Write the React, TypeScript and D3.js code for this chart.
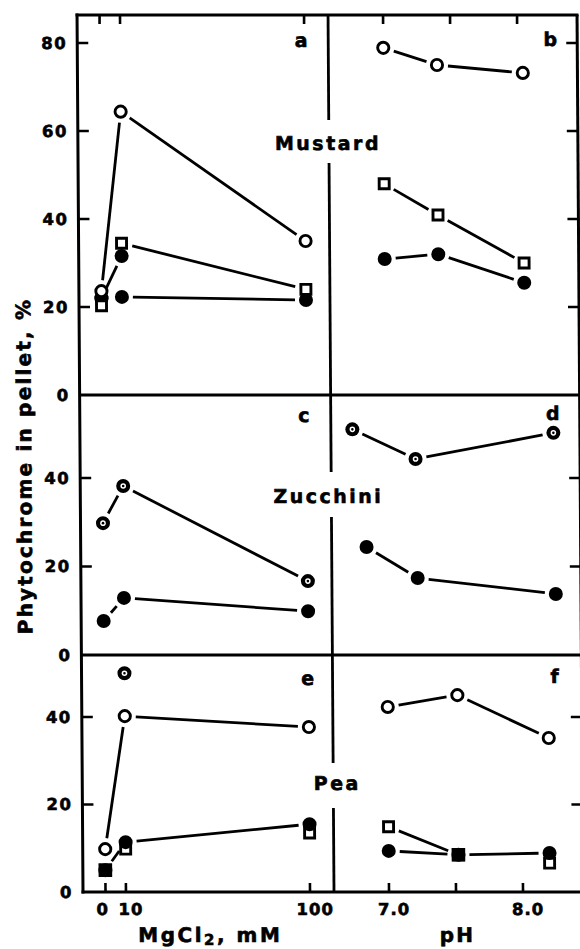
import React from 'react';
import * as d3 from 'd3';

// ---- tick values / labels ----
const mgTicks = [0, 10, 100];
const mgTickLabels = ['0', '10', '100'];
const phTicks = [7.0, 7.5, 8.0];
const phTickLabels = ['7.0', '', '8.0'];
const yTicksMustard = [20, 40, 60, 80];
const yTicksZucchini = [20, 40];
const yTicksPea = [20, 40];
const yLabelsMustard = ['20', '40', '60', '80'];
const yLabelsZucchini = ['20', '40'];
const yLabelsPea = ['20', '40'];

// ---- (a) Mustard, MgCl2 ----
const mgX = [0, 10, 100];
const mustardMgOpen = [23.6, 64.4, 35.0];
const mustardMgSquare = [20.3, 34.5, 24.0];
const mustardMgFilled = [22.0, 22.3, 21.6];
const mustardMgFilled2X = [0, 10];
const mustardMgFilled2 = [22.0, 31.6];
// ---- (b) Mustard, pH ----
const mustardPhX = [7.0, 7.4, 8.04];
const mustardPhOpen = [78.9, 75.0, 73.2];
const mustardPhSquare = [48.0, 40.9, 30.0];
const mustardPhFilled = [30.9, 32.0, 25.5];
// ---- (c) Zucchini, MgCl2 ----
const zucchiniMgDotted = [29.8, 38.2, 16.7];
const zucchiniMgFilled = [7.7, 12.9, 9.9];
// ---- (d) Zucchini, pH ----
const zucchiniPhDottedX = [6.75, 7.22, 8.25];
const zucchiniPhDotted = [51.0, 44.3, 50.2];
const zucchiniPhFilledX = [6.85, 7.23, 8.26];
const zucchiniPhFilled = [24.4, 17.4, 13.8];
// ---- (e) Pea, MgCl2 ----
const peaMgOpen = [9.8, 40.2, 37.7];
const peaMgDottedX = [10];
const peaMgDotted = [50.0];
const peaMgFilled = [5.0, 11.4, 15.5];
const peaMgSquareX = [10, 100];
const peaMgSquare = [9.8, 13.5];
const peaMgFilledSquareX = [0];
const peaMgFilledSquare = [5.0];
// ---- (f) Pea, pH ----
const peaPhX = [7.0, 7.52, 8.2];
const peaPhOpen = [42.3, 45.0, 35.2];
const peaPhSquare = [14.9, 8.5, 6.6];
const peaPhFilled = [9.4, 8.5, 8.9];
const peaPhFilledSquareX = [7.52];
const peaPhFilledSquare = [8.5];

type Marker = 'open' | 'filled' | 'square' | 'filledSquare' | 'dotted';
type Series = { marker: Marker; xs: number[]; ys: number[]; links: number[][] };

const chain = (n: number) => d3.range(n - 1).map((i) => [i, i + 1]);

const FONT = '"DejaVu Sans", Verdana, sans-serif';

function shorten(x1: number, y1: number, x2: number, y2: number, g = 11) {
  const dx = x2 - x1, dy = y2 - y1;
  const d = Math.hypot(dx, dy);
  if (d < 2 * g + 2) return null;
  const ux = dx / d, uy = dy / d;
  return [x1 + ux * g, y1 + uy * g, x2 - ux * g, y2 - uy * g];
}

function MarkerShape({ m, x, y }: { m: Marker; x: number; y: number }) {
  if (m === 'open') return <circle cx={x} cy={y} r={5.6} fill="#fff" stroke="#000" strokeWidth={2.9} />;
  if (m === 'filled') return <circle cx={x} cy={y} r={7} fill="#000" />;
  if (m === 'square') return <rect x={x - 5} y={y - 5} width={10} height={10} fill="#fff" stroke="#000" strokeWidth={2.9} />;
  if (m === 'filledSquare') return <rect x={x - 6.8} y={y - 6.8} width={13.6} height={13.6} fill="#000" />;
  return (
    <g>
      <circle cx={x} cy={y} r={7} fill="#000" />
      <circle cx={x} cy={y} r={2.8} fill="#fff" />
      <circle cx={x} cy={y} r={1.3} fill="#000" />
    </g>
  );
}

export default function App() {
  const W = 580, H = 949;
  const L = 80, R = 580, MID = 331, TOP = 15, H1 = 395, H2 = 655, BOT = 892;

  const xMg = d3.scaleLinear().domain([0, 100]).range([102.5, 307]);
  const xPh = d3.scaleLinear().domain([7, 8]).range([386, 520]);
  const yA = d3.scaleLinear().domain([0, 80]).range([H1, 43]);
  const yC = d3.scaleLinear().domain([0, 40]).range([H2, 478]);
  const yE = d3.scaleLinear().domain([0, 40]).range([BOT, 717]);

  const panels = [
    {
      x: xMg, y: yA, letter: 'a', lx: 304, ly: 47,
      series: [
        { marker: 'filled', xs: mgX, ys: mustardMgFilled, links: chain(3) },
        { marker: 'filled', xs: mustardMgFilled2X, ys: mustardMgFilled2, links: chain(2) },
        { marker: 'square', xs: mgX, ys: mustardMgSquare, links: [[1, 2]] },
        { marker: 'open', xs: mgX, ys: mustardMgOpen, links: chain(3) },
      ] as Series[],
    },
    {
      x: xPh, y: yA, letter: 'b', lx: 553, ly: 46,
      series: [
        { marker: 'open', xs: mustardPhX, ys: mustardPhOpen, links: chain(3) },
        { marker: 'square', xs: mustardPhX, ys: mustardPhSquare, links: chain(3) },
        { marker: 'filled', xs: mustardPhX, ys: mustardPhFilled, links: chain(3) },
      ] as Series[],
    },
    {
      x: xMg, y: yC, letter: 'c', lx: 304, ly: 422,
      series: [
        { marker: 'dotted', xs: mgX, ys: zucchiniMgDotted, links: chain(3) },
        { marker: 'filled', xs: mgX, ys: zucchiniMgFilled, links: chain(3) },
      ] as Series[],
    },
    {
      x: xPh, y: yC, letter: 'd', lx: 553, ly: 420,
      series: [
        { marker: 'dotted', xs: zucchiniPhDottedX, ys: zucchiniPhDotted, links: chain(3) },
        { marker: 'filled', xs: zucchiniPhFilledX, ys: zucchiniPhFilled, links: chain(3) },
      ] as Series[],
    },
    {
      x: xMg, y: yE, letter: 'e', lx: 306, ly: 685,
      series: [
        { marker: 'open', xs: mgX, ys: peaMgOpen, links: chain(3) },
        { marker: 'dotted', xs: peaMgDottedX, ys: peaMgDotted, links: [] },
        { marker: 'square', xs: peaMgSquareX, ys: peaMgSquare, links: [] },
        { marker: 'filled', xs: mgX, ys: peaMgFilled, links: chain(3) },
        { marker: 'filledSquare', xs: peaMgFilledSquareX, ys: peaMgFilledSquare, links: [] },
      ] as Series[],
    },
    {
      x: xPh, y: yE, letter: 'f', lx: 553, ly: 683,
      series: [
        { marker: 'open', xs: peaPhX, ys: peaPhOpen, links: chain(3) },
        { marker: 'square', xs: peaPhX, ys: peaPhSquare, links: [[0, 1]] },
        { marker: 'filled', xs: peaPhX, ys: peaPhFilled, links: chain(3) },
        { marker: 'filledSquare', xs: peaPhFilledSquareX, ys: peaPhFilledSquare, links: [] },
      ] as Series[],
    },
  ];

  const rows = [
    { y: yA, ticks: yTicksMustard, labels: yLabelsMustard, zeroY: H1 },
    { y: yC, ticks: yTicksZucchini, labels: yLabelsZucchini, zeroY: H2 },
    { y: yE, ticks: yTicksPea, labels: yLabelsPea, zeroY: BOT },
  ];

  const species = [
    { name: 'Mustard', x: 330, y: 150 },
    { name: 'Zucchini', x: 328, y: 503 },
    { name: 'Pea', x: 335, y: 790 },
  ];
  const dividerSegs = [[TOP, 120], [163, 472], [517, 763], [808, BOT]];

  const axisStroke = { stroke: '#000', strokeWidth: 3, fill: 'none' };
  const heavy = { stroke: '#000', strokeWidth: 0.6 };

  return (
    <svg width={W} height={H} style={{ position: 'absolute', left: 0, top: 0, background: '#fff' }}
      fontFamily={FONT} fontWeight="bold">
      <rect width={W} height={H} fill="#fff" />
      <g transform="translate(0,450) skewX(0.39) translate(0,-450)">
        {/* frame */}
        <line x1={L} y1={TOP} x2={L} y2={BOT} {...axisStroke} strokeLinecap="square" />
        <line x1={L} y1={TOP} x2={R} y2={TOP} {...axisStroke} strokeLinecap="square" />
        <line x1={R} y1={TOP} x2={R} y2={BOT} {...axisStroke} />
        <line x1={L} y1={H1} x2={R} y2={H1} {...axisStroke} />
        <line x1={L} y1={H2} x2={R} y2={H2} {...axisStroke} />
        <line x1={L} y1={BOT} x2={R} y2={BOT} {...axisStroke} strokeLinecap="square" />
        {dividerSegs.map(([a, b], i) => (
          <line key={'dv' + i} x1={MID} y1={a} x2={MID} y2={b} stroke="#000" strokeWidth={2.8} />
        ))}

        {/* top and bottom ticks */}
        {mgTicks.map((t) => (
          <g key={'mg' + t}>
            <line x1={xMg(t)} x2={xMg(t)} y1={TOP} y2={TOP + 9} stroke="#000" strokeWidth={2.6} />
            <line x1={xMg(t)} x2={xMg(t)} y1={BOT} y2={BOT - 9} stroke="#000" strokeWidth={2.6} />
          </g>
        ))}
        {phTicks.map((t) => (
          <g key={'ph' + t}>
            <line x1={xPh(t)} x2={xPh(t)} y1={TOP} y2={TOP + 9} stroke="#000" strokeWidth={2.6} />
            <line x1={xPh(t)} x2={xPh(t)} y1={BOT} y2={BOT - 9} stroke="#000" strokeWidth={2.6} />
          </g>
        ))}
        {/* bottom tick labels */}
        {mgTicks.map((t, i) => (
          <text key={'mgl' + t} x={xMg(t) + (t === 0 ? -3 : 5)} y={915} textAnchor="middle"
            fontSize={16.5} letterSpacing={1} {...heavy}>{mgTickLabels[i]}</text>
        ))}
        {phTicks.map((t, i) => (
          <text key={'phl' + t} x={xPh(t) + 5} y={915} textAnchor="middle"
            fontSize={16.5} letterSpacing={1} {...heavy}>{phTickLabels[i]}</text>
        ))}
        <text x={207} y={942} textAnchor="middle" fontSize={20} letterSpacing={2.5} {...heavy}>
          MgCl<tspan fontSize={15} dy={3}>2</tspan><tspan dy={-3}>, mM</tspan>
        </text>
        <text x={454} y={942} textAnchor="middle" fontSize={20} letterSpacing={2} {...heavy}>pH</text>

        {/* left/right ticks and labels */}
        {rows.map((r, ri) => (
          <g key={'row' + ri}>
            {r.ticks.map((t, i) => (
              <g key={t}>
                <line x1={L} x2={L + 11} y1={r.y(t)} y2={r.y(t)} stroke="#000" strokeWidth={2.6} />
                <line x1={R - 11} x2={R} y1={r.y(t)} y2={r.y(t)} stroke="#000" strokeWidth={2.6} />
                <text x={70} y={r.y(t)} dy="0.36em" textAnchor="end" fontSize={16.5} letterSpacing={1.5} {...heavy}>
                  {r.labels[i]}
                </text>
              </g>
            ))}
            <text x={70} y={r.zeroY} dy="0.36em" textAnchor="end" fontSize={16.5} letterSpacing={1.5} {...heavy}>0</text>
          </g>
        ))}

        {/* y axis title */}
        <text transform="translate(24,466) rotate(-90)" textAnchor="middle" dy="0.36em"
          fontSize={20} letterSpacing={2.2} {...heavy}>Phytochrome in pellet, %</text>

        {/* species labels */}
        {species.map((s) => (
          <text key={s.name} x={s.x} y={s.y} textAnchor="middle" fontSize={19} letterSpacing={2.5} {...heavy}>{s.name}</text>
        ))}

        {/* panels */}
        {panels.map((p, pi) => (
          <g key={'p' + pi}>
            <text x={p.lx} y={p.ly} textAnchor="middle" fontSize={19} {...heavy}>{p.letter}</text>
            {p.series.map((s, si) =>
              s.links.map(([a, b], li) => {
                const seg = shorten(p.x(s.xs[a]), p.y(s.ys[a]), p.x(s.xs[b]), p.y(s.ys[b]));
                if (!seg) return null;
                return (
                  <line key={`l${si}-${li}`} x1={seg[0]} y1={seg[1]} x2={seg[2]} y2={seg[3]}
                    stroke="#000" strokeWidth={2.8} />
                );
              })
            )}
            {p.series.map((s, si) =>
              s.xs.map((xv, i) => (
                <MarkerShape key={`m${si}-${i}`} m={s.marker} x={p.x(xv)} y={p.y(s.ys[i])} />
              ))
            )}
          </g>
        ))}
      </g>
    </svg>
  );
}
